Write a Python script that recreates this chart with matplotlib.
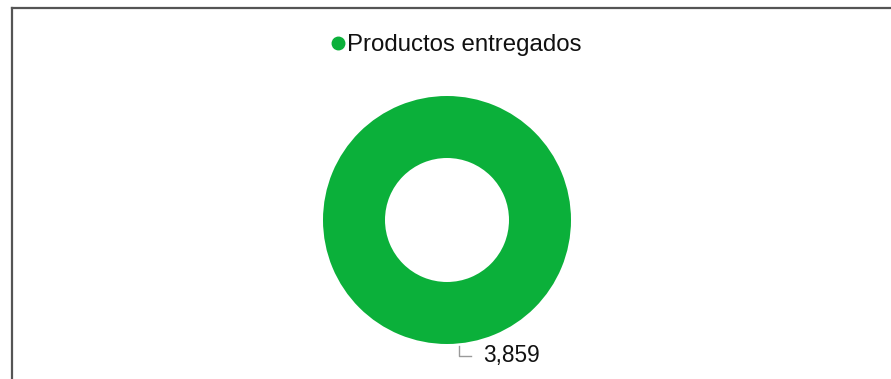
import matplotlib
matplotlib.use("Agg")
import matplotlib.pyplot as plt
from matplotlib.lines import Line2D

plt.rcParams['font.family'] = ['Liberation Sans', 'DejaVu Sans']

categories = ["Productos entregados"]
values = [3859]
colors = ["#0bb03a"]

W, H = 891, 379
fig = plt.figure(figsize=(W / 100, H / 100), dpi=100)

# donut axes: centre at (447, 220) px, radius 124 px
cx, cy, r = 447, 220, 124
ax = fig.add_axes([(cx - r) / W, (H - cy - r) / H, 2 * r / W, 2 * r / H])
wedges, _ = ax.pie(values, colors=colors, startangle=90, counterclock=False,
                   radius=1.0, wedgeprops=dict(width=0.5, linewidth=0))
ax.set_xlim(-1, 1)
ax.set_ylim(-1, 1)
ax.set_aspect("equal")
ax.axis("off")

# value label with leader line
ax.plot([0.1, 0.1, 0.19], [-1.02, -1.1, -1.1], color="#9a9a9a", lw=1, clip_on=False)
ax.text(0.295, -1.09, f"{values[0]:,}", fontsize=16.3, color="#111111",
        ha="left", va="center", clip_on=False)

# legend
fig.add_artist(Line2D([338 / W], [1 - 43 / H], marker="o", markersize=9,
                      color=colors[0], linestyle="none"))
fig.text(347 / W, 1 - 44.5 / H, categories[0], fontsize=17.3, color="#111111",
         ha="left", va="center")

# frame on left and top
fig.add_artist(Line2D([12 / W, 12 / W], [0, 1 - 8 / H], color="#555555", lw=1.6))
fig.add_artist(Line2D([12 / W, 1], [1 - 8 / H, 1 - 8 / H], color="#555555", lw=1.6))

fig.savefig("out.png", dpi=100)
